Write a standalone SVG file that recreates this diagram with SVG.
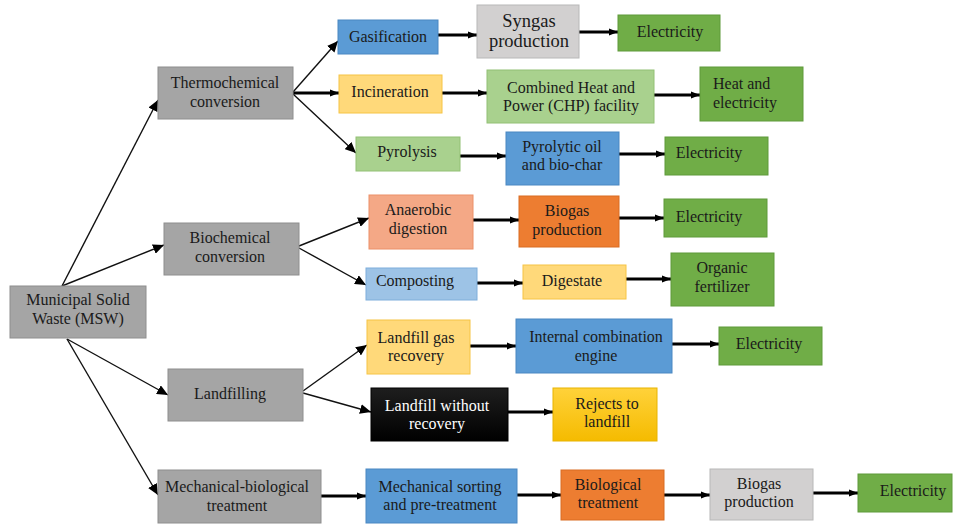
<svg xmlns="http://www.w3.org/2000/svg" width="955" height="525" viewBox="0 0 955 525">
<style>
text{font-size:16px;fill:#1a1a1a;text-anchor:middle}
.w{fill:#ffffff}
.big{font-size:18.5px}
.gray{fill:#a5a5a5;stroke:#8e8e8e;stroke-width:1}
.lgray{fill:#d2d0d0;stroke:#b8b8b8;stroke-width:1}
.blue{fill:#5b9bd5;stroke:#4a87c2;stroke-width:1}
.lblue{fill:#9dc3e6;stroke:#7eaedb;stroke-width:1}
.green{fill:#70ad47;stroke:#5f9a3b;stroke-width:1}
.lgreen{fill:#a9d18e;stroke:#92c074;stroke-width:1}
.gold{fill:#ffd97a;stroke:#f6c445;stroke-width:1}
.orange{fill:#ed7d31;stroke:#d96c23;stroke-width:1}
.salmon{fill:#f4a886;stroke:#ec9068;stroke-width:1}
.thin{stroke:#111;stroke-width:1.4;fill:none;marker-end:url(#ah)}
.thick{stroke:#000;stroke-width:3.2;fill:none;marker-end:url(#ahb)}
</style>
<defs>
<marker id="ah" markerUnits="userSpaceOnUse" markerWidth="12" markerHeight="10" refX="11" refY="5" orient="auto">
<path d="M0,0 L11,5 L0,10 z" fill="#000"/>
</marker>
<marker id="ahb" markerUnits="userSpaceOnUse" markerWidth="10" markerHeight="8" refX="9" refY="4" orient="auto">
<path d="M0,0.5 L9,4 L0,7.5 z" fill="#000"/>
</marker>
<linearGradient id="blk" x1="0" y1="0" x2="0" y2="1">
<stop offset="0" stop-color="#1e1e1e"/><stop offset="1" stop-color="#000"/>
</linearGradient>
<linearGradient id="rej" x1="0" y1="0" x2="0" y2="1">
<stop offset="0" stop-color="#ffd23a"/><stop offset="1" stop-color="#f5bb00"/>
</linearGradient>
</defs>

<g id="connectors">
<line class="thin" x1="62" y1="286" x2="158" y2="100"/>
<line class="thin" x1="62" y1="286" x2="164" y2="245"/>
<line class="thin" x1="67" y1="339" x2="168" y2="395"/>
<line class="thin" x1="67" y1="339" x2="158" y2="495"/>
<line class="thin" x1="293" y1="92" x2="338" y2="41"/>
<line class="thick" x1="293" y1="93" x2="339" y2="93"/>
<line class="thin" x1="293" y1="94" x2="356" y2="153"/>
<line class="thin" x1="299" y1="246" x2="369" y2="218"/>
<line class="thin" x1="299" y1="248" x2="366" y2="285"/>
<line class="thin" x1="303" y1="391" x2="367" y2="345"/>
<line class="thin" x1="303" y1="393" x2="371" y2="412"/>
<line class="thick" x1="438" y1="35" x2="477" y2="35"/>
<line class="thick" x1="579" y1="32" x2="618" y2="32"/>
<line class="thick" x1="442" y1="93" x2="487" y2="93"/>
<line class="thick" x1="654" y1="95" x2="700" y2="95"/>
<line class="thick" x1="460" y1="156" x2="506" y2="156"/>
<line class="thick" x1="619" y1="154" x2="665" y2="154"/>
<line class="thick" x1="473" y1="220" x2="519" y2="220"/>
<line class="thick" x1="619" y1="218" x2="664" y2="218"/>
<line class="thick" x1="477" y1="283" x2="523" y2="283"/>
<line class="thick" x1="626" y1="279" x2="671" y2="279"/>
<line class="thick" x1="470" y1="346" x2="516" y2="346"/>
<line class="thick" x1="672" y1="344" x2="719" y2="344"/>
<line class="thick" x1="508" y1="412" x2="553" y2="412"/>
<line class="thick" x1="321" y1="496" x2="366" y2="496"/>
<line class="thick" x1="517" y1="495" x2="561" y2="495"/>
<line class="thick" x1="664" y1="495" x2="710" y2="495"/>
<line class="thick" x1="813" y1="493" x2="858" y2="493"/>
</g>

<g font-family="Liberation Serif, Times New Roman, serif">
<g id="msw"><rect class="gray" x="10" y="286" width="136" height="52"/>
<text x="78" y="305">Municipal Solid</text><text x="78" y="324">Waste (MSW)</text></g>

<g id="thermo"><rect class="gray" x="158" y="67" width="135" height="52"/>
<text x="225" y="88">Thermochemical</text><text x="225" y="107">conversion</text></g>

<g id="gasification"><rect class="blue" x="338" y="20" width="100" height="34"/>
<text x="388" y="42">Gasification</text></g>

<g id="syngas"><rect class="lgray" x="477" y="5" width="102" height="53"/>
<text class="big" x="529" y="27">Syngas</text><text class="big" x="529" y="47">production</text></g>

<g id="elec1"><rect class="green" x="618" y="15" width="102" height="36"/>
<text x="670" y="37">Electricity</text></g>

<g id="incineration"><rect class="gold" x="339" y="75" width="103" height="38"/>
<text x="390" y="97">Incineration</text></g>

<g id="chp"><rect class="lgreen" x="487" y="70" width="167" height="53"/>
<text x="571" y="93">Combined Heat and</text><text x="571" y="111">Power (CHP) facility</text></g>

<g id="heat"><rect class="green" x="700" y="67" width="103" height="54"/>
<text x="713" y="89" text-anchor="start" style="text-anchor:start">Heat and</text><text x="713" y="108" style="text-anchor:start">electricity</text></g>

<g id="pyrolysis"><rect class="lgreen" x="356" y="137" width="104" height="34"/>
<text x="407" y="157">Pyrolysis</text></g>

<g id="pyrolytic"><rect class="blue" x="506" y="132" width="113" height="53"/>
<text x="562" y="152">Pyrolytic oil</text><text x="562" y="170">and bio-char</text></g>

<g id="elec2"><rect class="green" x="665" y="137" width="103" height="38"/>
<text x="709" y="158">Electricity</text></g>

<g id="biochem"><rect class="gray" x="164" y="223" width="135" height="52"/>
<text x="230" y="243">Biochemical</text><text x="230" y="262">conversion</text></g>

<g id="anaerobic"><rect class="salmon" x="369" y="195" width="104" height="54"/>
<text x="418" y="215">Anaerobic</text><text x="418" y="234">digestion</text></g>

<g id="biogas1"><rect class="orange" x="519" y="196" width="100" height="51"/>
<text x="567" y="216">Biogas</text><text x="567" y="235">production</text></g>

<g id="elec3"><rect class="green" x="664" y="199" width="103" height="38"/>
<text x="709" y="222">Electricity</text></g>

<g id="composting"><rect class="lblue" x="366" y="268" width="111" height="32"/>
<text x="415" y="286">Composting</text></g>

<g id="digestate"><rect class="gold" x="523" y="265" width="103" height="34"/>
<text x="572" y="286">Digestate</text></g>

<g id="organic"><rect class="green" x="671" y="253" width="103" height="53"/>
<text x="722" y="273">Organic</text><text x="722" y="292">fertilizer</text></g>

<g id="landfilling"><rect class="gray" x="168" y="369" width="135" height="52"/>
<text x="230" y="399">Landfilling</text></g>

<g id="lfg"><rect class="gold" x="367" y="320" width="103" height="54"/>
<text x="416" y="343">Landfill gas</text><text x="416" y="361">recovery</text></g>

<g id="ice"><rect class="blue" x="516" y="319" width="156" height="54"/>
<text x="596" y="342">Internal combination</text><text x="596" y="361">engine</text></g>

<g id="elec4"><rect class="green" x="719" y="327" width="103" height="38"/>
<text x="769" y="349">Electricity</text></g>

<g id="lwo"><rect x="371" y="388" width="137" height="53" fill="url(#blk)" stroke="#000"/>
<text class="w" x="437" y="411">Landfill without</text><text class="w" x="437" y="429">recovery</text></g>

<g id="rejects"><rect x="553" y="388" width="104" height="53" fill="url(#rej)" stroke="#e8b400"/>
<text x="607" y="409">Rejects to</text><text x="607" y="427">landfill</text></g>

<g id="mbt"><rect class="gray" x="158" y="470" width="163" height="53"/>
<text x="237" y="492">Mechanical-biological</text><text x="237" y="511">treatment</text></g>

<g id="mechsort"><rect class="blue" x="366" y="469" width="151" height="54"/>
<text x="440" y="492">Mechanical sorting</text><text x="440" y="510">and pre-treatment</text></g>

<g id="biotreat"><rect class="orange" x="561" y="470" width="103" height="50"/>
<text x="608" y="490">Biological</text><text x="608" y="508">treatment</text></g>

<g id="biogas2"><rect class="lgray" x="710" y="469" width="103" height="51"/>
<text x="759" y="489">Biogas</text><text x="759" y="507">production</text></g>

<g id="elec5"><rect class="green" x="858" y="474" width="94" height="38"/>
<text x="913" y="496">Electricity</text></g>
</g>
</svg>
